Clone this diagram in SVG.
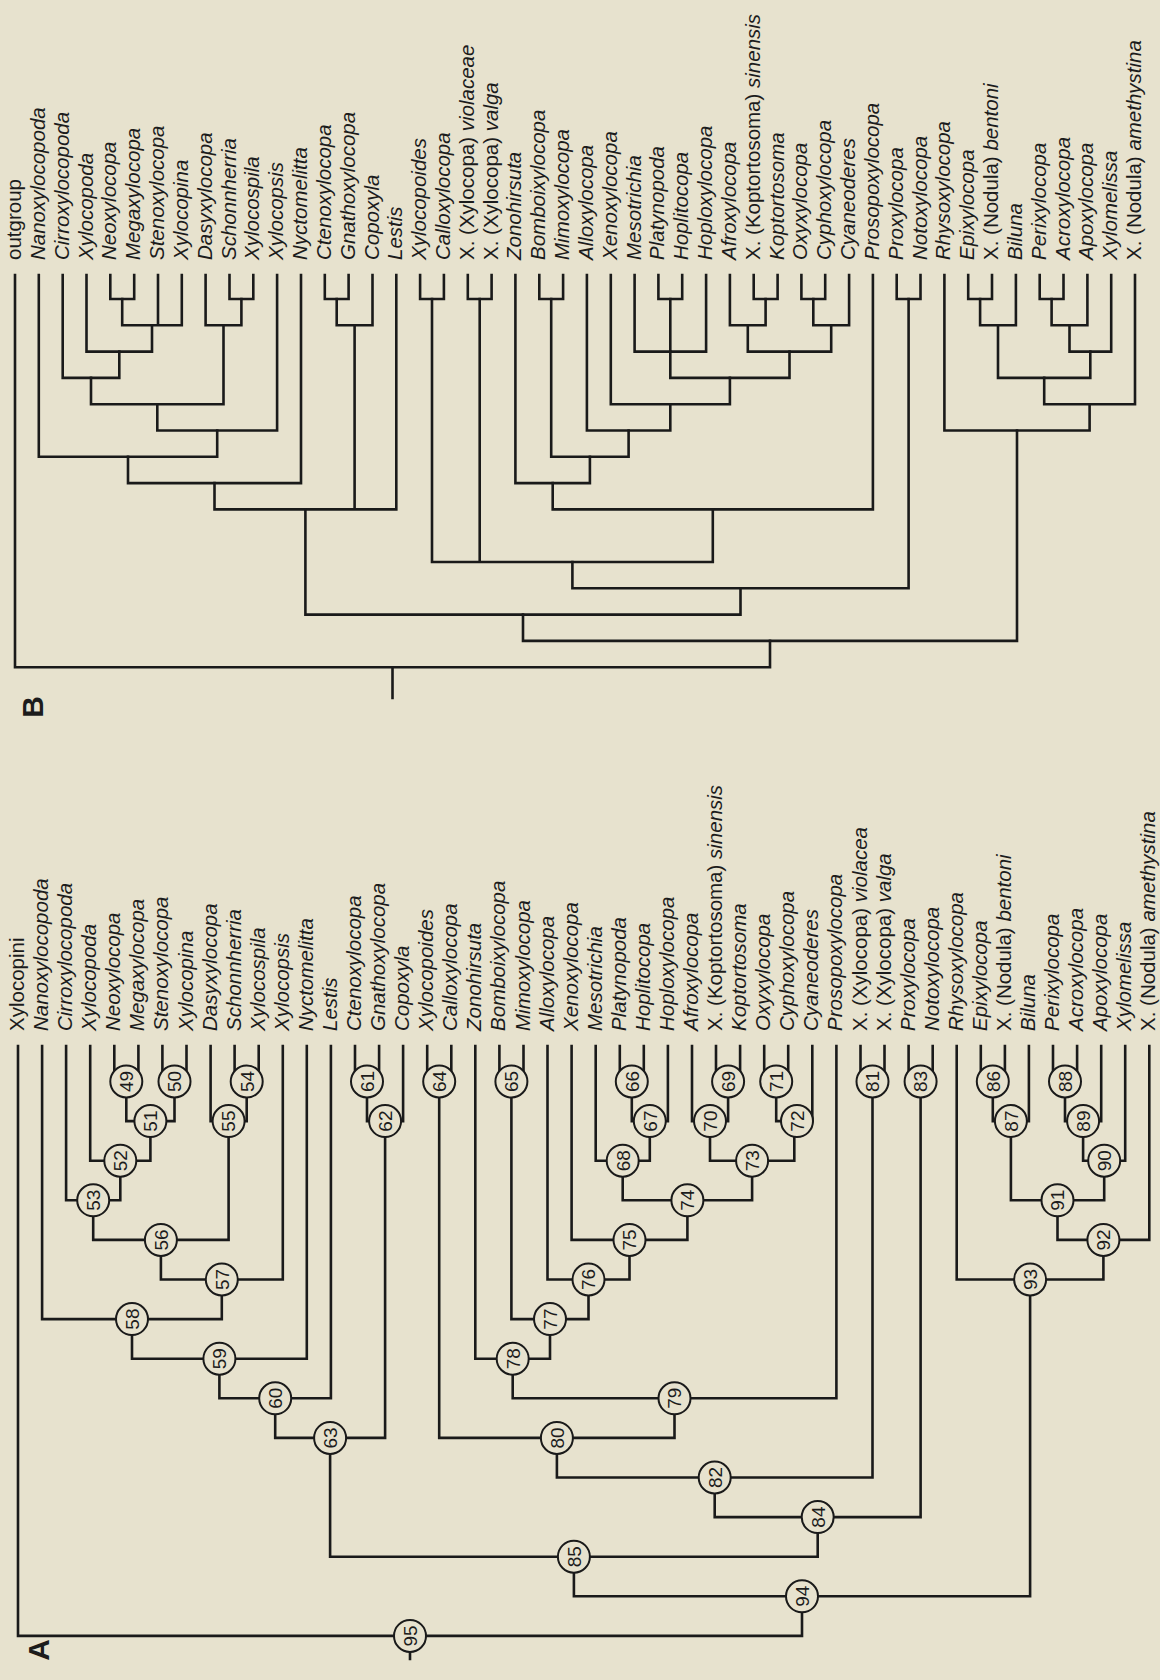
<svg xmlns="http://www.w3.org/2000/svg" width="1160" height="1680" viewBox="0 0 1160 1680">
<style>
.lbl{font-family:"Liberation Sans",Arial,sans-serif;font-size:20.5px;font-style:italic;fill:#1c1c1c}
.up{font-style:normal}
.num{font-family:"Liberation Sans",Arial,sans-serif;font-size:19px;text-anchor:middle;fill:#1c1c1c}
.edge{fill:none;stroke:#1a1a1a;stroke-width:2.6;stroke-linecap:square;stroke-linejoin:miter}
.nc{fill:#E7E2CE;stroke:#1a1a1a;stroke-width:2}
.panel{font-family:"Liberation Sans",Arial,sans-serif;font-weight:bold;font-size:30px;text-anchor:middle;fill:#1c1c1c}
</style>
<rect width="1160" height="1680" fill="#E7E2CE"/>

<g id="panel-labels">
<text class="panel" transform="translate(43.2,707) rotate(-90)">B</text>
<text class="panel" transform="translate(48.7,1650) rotate(-90)">A</text>
</g>

<g id="connectors-B" class="edge">
<path d="M110.3,275 V299 H134.2 V275"/>
<path d="M122.2,299 V325.3 H181.8 V275 M158.0,275 V325.3"/>
<path d="M86.5,275 V351.6 H152.0 V325.3"/>
<path d="M62.7,275 V377.9 H119.3 V351.6"/>
<path d="M229.5,275 V299 H253.3 V275"/>
<path d="M205.6,275 V325.3 H241.4 V299"/>
<path d="M91.0,377.9 V404.2 H223.5 V325.3"/>
<path d="M157.3,404.2 V430.5 H277.1 V275"/>
<path d="M38.8,275 V456.8 H217.2 V430.5"/>
<path d="M128.0,456.8 V483.1 H301.0 V275"/>
<path d="M324.8,275 V299 H348.6 V275"/>
<path d="M336.7,299 V325.3 H372.5 V275"/>
<path d="M214.5,483.1 V509.4 H396.3 V275 M354.6,325.3 V509.4"/>
<path d="M420.1,275 V299 H443.9 V275"/>
<path d="M467.8,275 V299 H491.6 V275"/>
<path d="M539.3,275 V299 H563.1 V275"/>
<path d="M658.4,275 V299 H682.2 V275"/>
<path d="M634.6,275 V351.6 H706.1 V275 M670.3,299 V351.6"/>
<path d="M753.7,275 V299 H777.6 V275"/>
<path d="M729.9,275 V325.3 H765.6 V299"/>
<path d="M801.4,275 V299 H825.2 V275"/>
<path d="M813.3,299 V325.3 H849.1 V275"/>
<path d="M747.8,325.3 V351.6 H831.2 V325.3"/>
<path d="M670.3,351.6 V377.9 H789.5 V351.6"/>
<path d="M610.8,275 V404.2 H729.9 V377.9"/>
<path d="M586.9,275 V430.5 H670.3 V404.2"/>
<path d="M551.2,299 V456.8 H628.6 V430.5"/>
<path d="M515.4,275 V483.1 H589.9 V456.8"/>
<path d="M552.7,483.1 V509.4 H872.9 V275"/>
<path d="M432.0,299 V562 H712.8 V509.4 M479.7,299 V562"/>
<path d="M896.7,275 V299 H920.5 V275"/>
<path d="M572.4,562 V588.3 H908.6 V299"/>
<path d="M305.4,509.4 V614.6 H740.5 V588.3"/>
<path d="M968.2,275 V299 H992.0 V275"/>
<path d="M980.1,299 V325.3 H1015.9 V275"/>
<path d="M1039.7,275 V299 H1063.5 V275"/>
<path d="M1051.6,299 V325.3 H1087.4 V275"/>
<path d="M1069.5,325.3 V351.6 H1111.2 V275"/>
<path d="M998.0,325.3 V377.9 H1090.3 V351.6"/>
<path d="M1044.2,377.9 V404.2 H1135.0 V275"/>
<path d="M944.4,275 V430.5 H1089.6 V404.2"/>
<path d="M523.0,614.6 V640.9 H1017.0 V430.5"/>
<path d="M15.0,275 V667.2 H770.0 V640.9 M392.5,667.2 V698"/>
</g>

<g id="connectors-A" class="edge">
<path d="M114.3,1046 V1081.5 H138.4 V1046"/>
<path d="M162.4,1046 V1081.5 H186.5 V1046"/>
<path d="M126.3,1081.5 V1121.1 H174.5 V1081.5"/>
<path d="M90.2,1046 V1160.7 H150.4 V1121.1"/>
<path d="M66.1,1046 V1200.3 H120.3 V1160.7"/>
<path d="M234.6,1046 V1081.5 H258.7 V1046"/>
<path d="M210.6,1046 V1121.1 H246.7 V1081.5"/>
<path d="M93.2,1200.3 V1239.9 H228.6 V1121.1"/>
<path d="M160.9,1239.9 V1279.5 H282.8 V1046"/>
<path d="M42.1,1046 V1319.1 H221.8 V1279.5"/>
<path d="M132.0,1319.1 V1358.7 H306.8 V1046"/>
<path d="M219.4,1358.7 V1398.3 H330.9 V1046"/>
<path d="M355.0,1046 V1081.5 H379.1 V1046"/>
<path d="M367.0,1081.5 V1121.1 H403.1 V1046"/>
<path d="M275.2,1398.3 V1437.9 H385.1 V1121.1"/>
<path d="M427.2,1046 V1081.5 H451.3 V1046"/>
<path d="M499.4,1046 V1081.5 H523.5 V1046"/>
<path d="M619.8,1046 V1081.5 H643.8 V1046"/>
<path d="M631.8,1081.5 V1121.1 H667.9 V1046"/>
<path d="M595.7,1046 V1160.7 H649.8 V1121.1"/>
<path d="M716.0,1046 V1081.5 H740.1 V1046"/>
<path d="M692.0,1046 V1121.1 H728.1 V1081.5"/>
<path d="M764.2,1046 V1081.5 H788.2 V1046"/>
<path d="M776.2,1081.5 V1121.1 H812.3 V1046"/>
<path d="M710.0,1121.1 V1160.7 H794.3 V1121.1"/>
<path d="M622.7,1160.7 V1200.3 H752.1 V1160.7"/>
<path d="M571.6,1046 V1239.9 H687.4 V1200.3"/>
<path d="M547.5,1046 V1279.5 H629.5 V1239.9"/>
<path d="M511.4,1081.5 V1319.1 H588.5 V1279.5"/>
<path d="M475.3,1046 V1358.7 H550.0 V1319.1"/>
<path d="M512.7,1358.7 V1398.3 H836.4 V1046"/>
<path d="M439.2,1081.5 V1437.9 H674.5 V1398.3"/>
<path d="M860.5,1046 V1081.5 H884.5 V1046"/>
<path d="M556.9,1437.9 V1477.5 H872.5 V1081.5"/>
<path d="M908.6,1046 V1081.5 H932.7 V1046"/>
<path d="M714.7,1477.5 V1517.1 H920.6 V1081.5"/>
<path d="M330.1,1437.9 V1556.7 H817.7 V1517.1"/>
<path d="M980.8,1046 V1081.5 H1004.9 V1046"/>
<path d="M992.8,1081.5 V1121.1 H1028.9 V1046"/>
<path d="M1053.0,1046 V1081.5 H1077.1 V1046"/>
<path d="M1065.0,1081.5 V1121.1 H1101.2 V1046"/>
<path d="M1083.1,1121.1 V1160.7 H1125.2 V1046"/>
<path d="M1010.9,1121.1 V1200.3 H1104.2 V1160.7"/>
<path d="M1057.5,1200.3 V1239.9 H1149.3 V1046"/>
<path d="M956.7,1046 V1279.5 H1103.4 V1239.9"/>
<path d="M573.9,1556.7 V1596.3 H1030.1 V1279.5"/>
<path d="M18.0,1046 V1635.9 H802.0 V1596.3 M410.0,1635.9 V1659"/>
</g>

<g id="taxa-B" class="lbl">
<g id="b-t00"><text class="up" transform="translate(21.0,260) rotate(-90)">outgroup</text></g>
<g id="b-t01"><text transform="translate(44.8,260) rotate(-90)">Nanoxylocopoda</text></g>
<g id="b-t02"><text transform="translate(68.7,260) rotate(-90)">Cirroxylocopoda</text></g>
<g id="b-t03"><text transform="translate(92.5,260) rotate(-90)">Xylocopoda</text></g>
<g id="b-t04"><text transform="translate(116.3,260) rotate(-90)">Neoxylocopa</text></g>
<g id="b-t05"><text transform="translate(140.2,260) rotate(-90)">Megaxylocopa</text></g>
<g id="b-t06"><text transform="translate(164.0,260) rotate(-90)">Stenoxylocopa</text></g>
<g id="b-t07"><text transform="translate(187.8,260) rotate(-90)">Xylocopina</text></g>
<g id="b-t08"><text transform="translate(211.6,260) rotate(-90)">Dasyxylocopa</text></g>
<g id="b-t09"><text transform="translate(235.5,260) rotate(-90)">Schonnherria</text></g>
<g id="b-t10"><text transform="translate(259.3,260) rotate(-90)">Xylocospila</text></g>
<g id="b-t11"><text transform="translate(283.1,260) rotate(-90)">Xylocopsis</text></g>
<g id="b-t12"><text transform="translate(307.0,260) rotate(-90)">Nyctomelitta</text></g>
<g id="b-t13"><text transform="translate(330.8,260) rotate(-90)">Ctenoxylocopa</text></g>
<g id="b-t14"><text transform="translate(354.6,260) rotate(-90)">Gnathoxylocopa</text></g>
<g id="b-t15"><text transform="translate(378.5,260) rotate(-90)">Copoxyla</text></g>
<g id="b-t16"><text transform="translate(402.3,260) rotate(-90)">Lestis</text></g>
<g id="b-t17"><text transform="translate(426.1,260) rotate(-90)">Xylocopoides</text></g>
<g id="b-t18"><text transform="translate(449.9,260) rotate(-90)">Calloxylocopa</text></g>
<g id="b-t19"><text transform="translate(473.8,260) rotate(-90)"><tspan class="up">X. (Xylocopa)</tspan> violaceae</text></g>
<g id="b-t20"><text transform="translate(497.6,260) rotate(-90)"><tspan class="up">X. (Xylocopa)</tspan> valga</text></g>
<g id="b-t21"><text transform="translate(521.4,260) rotate(-90)">Zonohirsuta</text></g>
<g id="b-t22"><text transform="translate(545.3,260) rotate(-90)">Bomboixylocopa</text></g>
<g id="b-t23"><text transform="translate(569.1,260) rotate(-90)">Mimoxylocopa</text></g>
<g id="b-t24"><text transform="translate(592.9,260) rotate(-90)">Alloxylocopa</text></g>
<g id="b-t25"><text transform="translate(616.8,260) rotate(-90)">Xenoxylocopa</text></g>
<g id="b-t26"><text transform="translate(640.6,260) rotate(-90)">Mesotrichia</text></g>
<g id="b-t27"><text transform="translate(664.4,260) rotate(-90)">Platynopoda</text></g>
<g id="b-t28"><text transform="translate(688.2,260) rotate(-90)">Hoplitocopa</text></g>
<g id="b-t29"><text transform="translate(712.1,260) rotate(-90)">Hoploxylocopa</text></g>
<g id="b-t30"><text transform="translate(735.9,260) rotate(-90)">Afroxylocopa</text></g>
<g id="b-t31"><text transform="translate(759.7,260) rotate(-90)"><tspan class="up">X. (Koptortosoma)</tspan> sinensis</text></g>
<g id="b-t32"><text transform="translate(783.6,260) rotate(-90)">Koptortosoma</text></g>
<g id="b-t33"><text transform="translate(807.4,260) rotate(-90)">Oxyxylocopa</text></g>
<g id="b-t34"><text transform="translate(831.2,260) rotate(-90)">Cyphoxylocopa</text></g>
<g id="b-t35"><text transform="translate(855.1,260) rotate(-90)">Cyaneoderes</text></g>
<g id="b-t36"><text transform="translate(878.9,260) rotate(-90)">Prosopoxylocopa</text></g>
<g id="b-t37"><text transform="translate(902.7,260) rotate(-90)">Proxylocopa</text></g>
<g id="b-t38"><text transform="translate(926.5,260) rotate(-90)">Notoxylocopa</text></g>
<g id="b-t39"><text transform="translate(950.4,260) rotate(-90)">Rhysoxylocopa</text></g>
<g id="b-t40"><text transform="translate(974.2,260) rotate(-90)">Epixylocopa</text></g>
<g id="b-t41"><text transform="translate(998.0,260) rotate(-90)"><tspan class="up">X. (Nodula)</tspan> bentoni</text></g>
<g id="b-t42"><text transform="translate(1021.9,260) rotate(-90)">Biluna</text></g>
<g id="b-t43"><text transform="translate(1045.7,260) rotate(-90)">Perixylocopa</text></g>
<g id="b-t44"><text transform="translate(1069.5,260) rotate(-90)">Acroxylocopa</text></g>
<g id="b-t45"><text transform="translate(1093.4,260) rotate(-90)">Apoxylocopa</text></g>
<g id="b-t46"><text transform="translate(1117.2,260) rotate(-90)">Xylomelissa</text></g>
<g id="b-t47"><text transform="translate(1141.0,260) rotate(-90)"><tspan class="up">X. (Nodula)</tspan> amethystina</text></g>
</g>

<g id="taxa-A" class="lbl">
<g id="a-t00"><text class="up" transform="translate(24.0,1031) rotate(-90)">Xylocopini</text></g>
<g id="a-t01"><text transform="translate(48.1,1031) rotate(-90)">Nanoxylocopoda</text></g>
<g id="a-t02"><text transform="translate(72.1,1031) rotate(-90)">Cirroxylocopoda</text></g>
<g id="a-t03"><text transform="translate(96.2,1031) rotate(-90)">Xylocopoda</text></g>
<g id="a-t04"><text transform="translate(120.3,1031) rotate(-90)">Neoxylocopa</text></g>
<g id="a-t05"><text transform="translate(144.4,1031) rotate(-90)">Megaxylocopa</text></g>
<g id="a-t06"><text transform="translate(168.4,1031) rotate(-90)">Stenoxylocopa</text></g>
<g id="a-t07"><text transform="translate(192.5,1031) rotate(-90)">Xylocopina</text></g>
<g id="a-t08"><text transform="translate(216.6,1031) rotate(-90)">Dasyxylocopa</text></g>
<g id="a-t09"><text transform="translate(240.6,1031) rotate(-90)">Schonnherria</text></g>
<g id="a-t10"><text transform="translate(264.7,1031) rotate(-90)">Xylocospila</text></g>
<g id="a-t11"><text transform="translate(288.8,1031) rotate(-90)">Xylocopsis</text></g>
<g id="a-t12"><text transform="translate(312.8,1031) rotate(-90)">Nyctomelitta</text></g>
<g id="a-t13"><text transform="translate(336.9,1031) rotate(-90)">Lestis</text></g>
<g id="a-t14"><text transform="translate(361.0,1031) rotate(-90)">Ctenoxylocopa</text></g>
<g id="a-t15"><text transform="translate(385.1,1031) rotate(-90)">Gnathoxylocopa</text></g>
<g id="a-t16"><text transform="translate(409.1,1031) rotate(-90)">Copoxyla</text></g>
<g id="a-t17"><text transform="translate(433.2,1031) rotate(-90)">Xylocopoides</text></g>
<g id="a-t18"><text transform="translate(457.3,1031) rotate(-90)">Calloxylocopa</text></g>
<g id="a-t19"><text transform="translate(481.3,1031) rotate(-90)">Zonohirsuta</text></g>
<g id="a-t20"><text transform="translate(505.4,1031) rotate(-90)">Bomboixylocopa</text></g>
<g id="a-t21"><text transform="translate(529.5,1031) rotate(-90)">Mimoxylocopa</text></g>
<g id="a-t22"><text transform="translate(553.5,1031) rotate(-90)">Alloxylocopa</text></g>
<g id="a-t23"><text transform="translate(577.6,1031) rotate(-90)">Xenoxylocopa</text></g>
<g id="a-t24"><text transform="translate(601.7,1031) rotate(-90)">Mesotrichia</text></g>
<g id="a-t25"><text transform="translate(625.8,1031) rotate(-90)">Platynopoda</text></g>
<g id="a-t26"><text transform="translate(649.8,1031) rotate(-90)">Hoplitocopa</text></g>
<g id="a-t27"><text transform="translate(673.9,1031) rotate(-90)">Hoploxylocopa</text></g>
<g id="a-t28"><text transform="translate(698.0,1031) rotate(-90)">Afroxylocopa</text></g>
<g id="a-t29"><text transform="translate(722.0,1031) rotate(-90)"><tspan class="up">X. (Koptortosoma)</tspan> sinensis</text></g>
<g id="a-t30"><text transform="translate(746.1,1031) rotate(-90)">Koptortosoma</text></g>
<g id="a-t31"><text transform="translate(770.2,1031) rotate(-90)">Oxyxylocopa</text></g>
<g id="a-t32"><text transform="translate(794.2,1031) rotate(-90)">Cyphoxylocopa</text></g>
<g id="a-t33"><text transform="translate(818.3,1031) rotate(-90)">Cyaneoderes</text></g>
<g id="a-t34"><text transform="translate(842.4,1031) rotate(-90)">Prosopoxylocopa</text></g>
<g id="a-t35"><text transform="translate(866.5,1031) rotate(-90)"><tspan class="up">X. (Xylocopa)</tspan> violacea</text></g>
<g id="a-t36"><text transform="translate(890.5,1031) rotate(-90)"><tspan class="up">X. (Xylocopa)</tspan> valga</text></g>
<g id="a-t37"><text transform="translate(914.6,1031) rotate(-90)">Proxylocopa</text></g>
<g id="a-t38"><text transform="translate(938.7,1031) rotate(-90)">Notoxylocopa</text></g>
<g id="a-t39"><text transform="translate(962.7,1031) rotate(-90)">Rhysoxylocopa</text></g>
<g id="a-t40"><text transform="translate(986.8,1031) rotate(-90)">Epixylocopa</text></g>
<g id="a-t41"><text transform="translate(1010.9,1031) rotate(-90)"><tspan class="up">X. (Nodula)</tspan> bentoni</text></g>
<g id="a-t42"><text transform="translate(1034.9,1031) rotate(-90)">Biluna</text></g>
<g id="a-t43"><text transform="translate(1059.0,1031) rotate(-90)">Perixylocopa</text></g>
<g id="a-t44"><text transform="translate(1083.1,1031) rotate(-90)">Acroxylocopa</text></g>
<g id="a-t45"><text transform="translate(1107.2,1031) rotate(-90)">Apoxylocopa</text></g>
<g id="a-t46"><text transform="translate(1131.2,1031) rotate(-90)">Xylomelissa</text></g>
<g id="a-t47"><text transform="translate(1155.3,1031) rotate(-90)"><tspan class="up">X. (Nodula)</tspan> amethystina</text></g>
</g>

<g id="nodes-A">
<g id="a-n49" transform="translate(126.3,1081.5)"><circle class="nc" r="16"/><text class="num" transform="translate(6.8,0) rotate(-90)">49</text></g>
<g id="a-n50" transform="translate(174.5,1081.5)"><circle class="nc" r="16"/><text class="num" transform="translate(6.8,0) rotate(-90)">50</text></g>
<g id="a-n51" transform="translate(150.4,1121.1)"><circle class="nc" r="16"/><text class="num" transform="translate(6.8,0) rotate(-90)">51</text></g>
<g id="a-n52" transform="translate(120.3,1160.7)"><circle class="nc" r="16"/><text class="num" transform="translate(6.8,0) rotate(-90)">52</text></g>
<g id="a-n53" transform="translate(93.2,1200.3)"><circle class="nc" r="16"/><text class="num" transform="translate(6.8,0) rotate(-90)">53</text></g>
<g id="a-n54" transform="translate(246.7,1081.5)"><circle class="nc" r="16"/><text class="num" transform="translate(6.8,0) rotate(-90)">54</text></g>
<g id="a-n55" transform="translate(228.6,1121.1)"><circle class="nc" r="16"/><text class="num" transform="translate(6.8,0) rotate(-90)">55</text></g>
<g id="a-n56" transform="translate(160.9,1239.9)"><circle class="nc" r="16"/><text class="num" transform="translate(6.8,0) rotate(-90)">56</text></g>
<g id="a-n57" transform="translate(221.8,1279.5)"><circle class="nc" r="16"/><text class="num" transform="translate(6.8,0) rotate(-90)">57</text></g>
<g id="a-n58" transform="translate(132.0,1319.1)"><circle class="nc" r="16"/><text class="num" transform="translate(6.8,0) rotate(-90)">58</text></g>
<g id="a-n59" transform="translate(219.4,1358.7)"><circle class="nc" r="16"/><text class="num" transform="translate(6.8,0) rotate(-90)">59</text></g>
<g id="a-n60" transform="translate(275.2,1398.3)"><circle class="nc" r="16"/><text class="num" transform="translate(6.8,0) rotate(-90)">60</text></g>
<g id="a-n61" transform="translate(367.0,1081.5)"><circle class="nc" r="16"/><text class="num" transform="translate(6.8,0) rotate(-90)">61</text></g>
<g id="a-n62" transform="translate(385.1,1121.1)"><circle class="nc" r="16"/><text class="num" transform="translate(6.8,0) rotate(-90)">62</text></g>
<g id="a-n63" transform="translate(330.1,1437.9)"><circle class="nc" r="16"/><text class="num" transform="translate(6.8,0) rotate(-90)">63</text></g>
<g id="a-n64" transform="translate(439.2,1081.5)"><circle class="nc" r="16"/><text class="num" transform="translate(6.8,0) rotate(-90)">64</text></g>
<g id="a-n65" transform="translate(511.4,1081.5)"><circle class="nc" r="16"/><text class="num" transform="translate(6.8,0) rotate(-90)">65</text></g>
<g id="a-n66" transform="translate(631.8,1081.5)"><circle class="nc" r="16"/><text class="num" transform="translate(6.8,0) rotate(-90)">66</text></g>
<g id="a-n67" transform="translate(649.8,1121.1)"><circle class="nc" r="16"/><text class="num" transform="translate(6.8,0) rotate(-90)">67</text></g>
<g id="a-n68" transform="translate(622.7,1160.7)"><circle class="nc" r="16"/><text class="num" transform="translate(6.8,0) rotate(-90)">68</text></g>
<g id="a-n69" transform="translate(728.1,1081.5)"><circle class="nc" r="16"/><text class="num" transform="translate(6.8,0) rotate(-90)">69</text></g>
<g id="a-n70" transform="translate(710.0,1121.1)"><circle class="nc" r="16"/><text class="num" transform="translate(6.8,0) rotate(-90)">70</text></g>
<g id="a-n71" transform="translate(776.2,1081.5)"><circle class="nc" r="16"/><text class="num" transform="translate(6.8,0) rotate(-90)">71</text></g>
<g id="a-n72" transform="translate(797.0,1121.1)"><circle class="nc" r="16"/><text class="num" transform="translate(6.8,0) rotate(-90)">72</text></g>
<g id="a-n73" transform="translate(752.1,1160.7)"><circle class="nc" r="16"/><text class="num" transform="translate(6.8,0) rotate(-90)">73</text></g>
<g id="a-n74" transform="translate(687.4,1200.3)"><circle class="nc" r="16"/><text class="num" transform="translate(6.8,0) rotate(-90)">74</text></g>
<g id="a-n75" transform="translate(629.5,1239.9)"><circle class="nc" r="16"/><text class="num" transform="translate(6.8,0) rotate(-90)">75</text></g>
<g id="a-n76" transform="translate(588.5,1279.5)"><circle class="nc" r="16"/><text class="num" transform="translate(6.8,0) rotate(-90)">76</text></g>
<g id="a-n77" transform="translate(550.0,1319.1)"><circle class="nc" r="16"/><text class="num" transform="translate(6.8,0) rotate(-90)">77</text></g>
<g id="a-n78" transform="translate(512.7,1358.7)"><circle class="nc" r="16"/><text class="num" transform="translate(6.8,0) rotate(-90)">78</text></g>
<g id="a-n79" transform="translate(674.5,1398.3)"><circle class="nc" r="16"/><text class="num" transform="translate(6.8,0) rotate(-90)">79</text></g>
<g id="a-n80" transform="translate(556.9,1437.9)"><circle class="nc" r="16"/><text class="num" transform="translate(6.8,0) rotate(-90)">80</text></g>
<g id="a-n81" transform="translate(872.5,1081.5)"><circle class="nc" r="16"/><text class="num" transform="translate(6.8,0) rotate(-90)">81</text></g>
<g id="a-n82" transform="translate(714.7,1477.5)"><circle class="nc" r="16"/><text class="num" transform="translate(6.8,0) rotate(-90)">82</text></g>
<g id="a-n83" transform="translate(920.6,1081.5)"><circle class="nc" r="16"/><text class="num" transform="translate(6.8,0) rotate(-90)">83</text></g>
<g id="a-n84" transform="translate(817.7,1517.1)"><circle class="nc" r="16"/><text class="num" transform="translate(6.8,0) rotate(-90)">84</text></g>
<g id="a-n85" transform="translate(573.9,1556.7)"><circle class="nc" r="16"/><text class="num" transform="translate(6.8,0) rotate(-90)">85</text></g>
<g id="a-n86" transform="translate(992.8,1081.5)"><circle class="nc" r="16"/><text class="num" transform="translate(6.8,0) rotate(-90)">86</text></g>
<g id="a-n87" transform="translate(1010.9,1121.1)"><circle class="nc" r="16"/><text class="num" transform="translate(6.8,0) rotate(-90)">87</text></g>
<g id="a-n88" transform="translate(1065.0,1081.5)"><circle class="nc" r="16"/><text class="num" transform="translate(6.8,0) rotate(-90)">88</text></g>
<g id="a-n89" transform="translate(1083.1,1121.1)"><circle class="nc" r="16"/><text class="num" transform="translate(6.8,0) rotate(-90)">89</text></g>
<g id="a-n90" transform="translate(1104.2,1160.7)"><circle class="nc" r="16"/><text class="num" transform="translate(6.8,0) rotate(-90)">90</text></g>
<g id="a-n91" transform="translate(1057.5,1200.3)"><circle class="nc" r="16"/><text class="num" transform="translate(6.8,0) rotate(-90)">91</text></g>
<g id="a-n92" transform="translate(1103.4,1239.9)"><circle class="nc" r="16"/><text class="num" transform="translate(6.8,0) rotate(-90)">92</text></g>
<g id="a-n93" transform="translate(1030.1,1279.5)"><circle class="nc" r="16"/><text class="num" transform="translate(6.8,0) rotate(-90)">93</text></g>
<g id="a-n94" transform="translate(802.0,1596.3)"><circle class="nc" r="16"/><text class="num" transform="translate(6.8,0) rotate(-90)">94</text></g>
<g id="a-n95" transform="translate(410.0,1635.9)"><circle class="nc" r="16"/><text class="num" transform="translate(6.8,0) rotate(-90)">95</text></g>
</g>
</svg>
